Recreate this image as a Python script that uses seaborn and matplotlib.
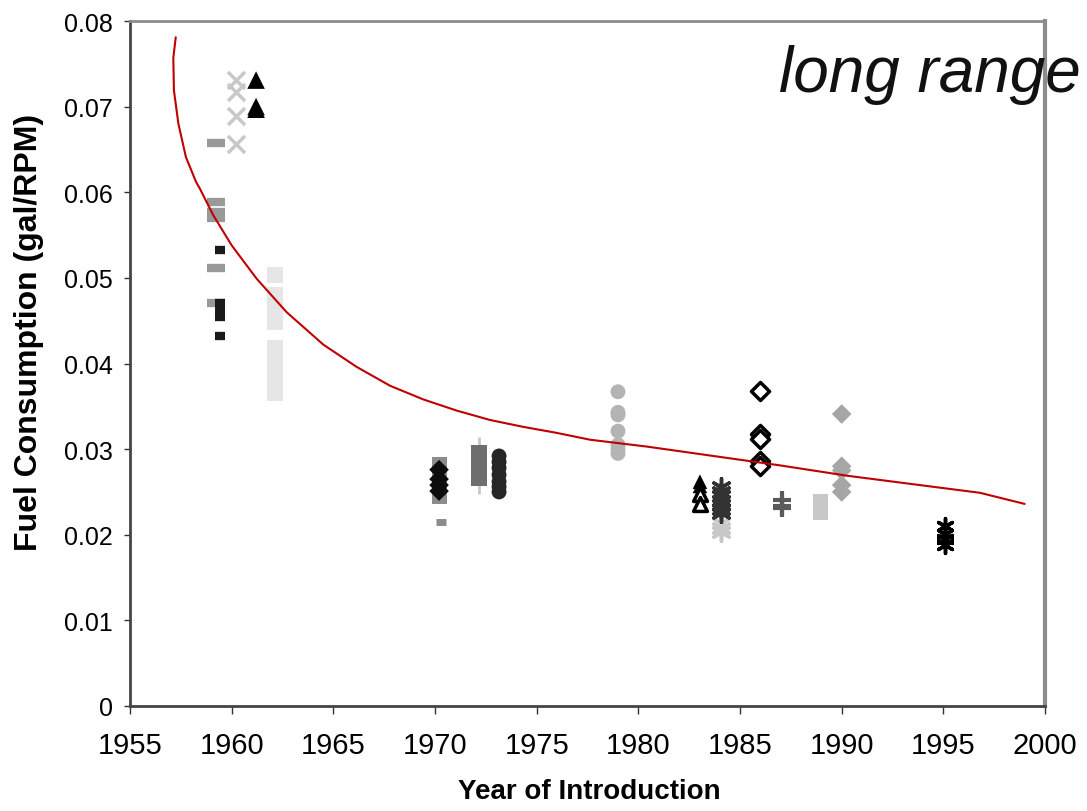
import matplotlib
matplotlib.use("Agg")
import matplotlib.pyplot as plt
import numpy as np
import seaborn as sns

# data (year of introduction, gal/RPM)
yr_59_gray = [1959.25] * 6
fc_59_gray = [0.0657, 0.0589, 0.0577, 0.0570, 0.0512, 0.0471]
yr_59_black = [1959.45] * 6
fc_59_black = [0.0533, 0.0471, 0.0465, 0.0459, 0.0454, 0.0432]
yr_60_x = [1960.2] * 4
fc_60_x = [0.0731, 0.0717, 0.0689, 0.0656]
yr_61_tri = [1961.2] * 3
fc_61_tri = [0.0731, 0.0700, 0.0697]
yr_62_sq = [1962.13] * 10
fc_62_sq = [0.0503, 0.0480, 0.0470, 0.0460, 0.0448, 0.0418, 0.0405, 0.0390, 0.0378, 0.0366]
yr_70_sq = [1970.2] * 4
fc_70_sq = [0.0282, 0.0270, 0.0256, 0.0245]
yr_70_dash = [1970.3]
fc_70_dash = [0.0215]
yr_70_dia = [1970.2] * 4
fc_70_dia = [0.0276, 0.0265, 0.0258, 0.0251]
yr_72_bar = [1972.17] * 2
fc_72_bar = [0.0300, 0.0262]
yr_72_sq = [1972.17] * 5
fc_72_sq = [0.0295, 0.0288, 0.0280, 0.0272, 0.0266]
yr_73_circ = [1973.15] * 7
fc_73_circ = [0.0292, 0.0285, 0.0278, 0.0270, 0.0262, 0.0256, 0.0250]
yr_79_circ = [1979] * 7
fc_79_circ = [0.0367, 0.0343, 0.0340, 0.0321, 0.0305, 0.0300, 0.0295]
yr_83_tri = [1983.03] * 2
fc_83_tri = [0.0262, 0.0257]
yr_83_tri_open = [1983.03] * 2
fc_83_tri_open = [0.0248, 0.0236]
yr_84_ast = [1984.07] * 7
fc_84_ast = [0.0256, 0.0250, 0.0245, 0.0240, 0.0235, 0.0230, 0.0225]
yr_84_ast_light = [1984.07] * 3
fc_84_ast_light = [0.0214, 0.0208, 0.0203]
yr_86_dia = [1986] * 5
fc_86_dia = [0.0368, 0.0318, 0.0312, 0.0286, 0.0280]
yr_87_plus = [1987.05] * 3
fc_87_plus = [0.0241, 0.0234, 0.0231]
yr_89_sq = [1988.95] * 3
fc_89_sq = [0.0239, 0.0232, 0.0226]
yr_90_dia = [1990] * 5
fc_90_dia = [0.0341, 0.0280, 0.0275, 0.0258, 0.0250]
yr_95_ast = [1995.07] * 4
fc_95_ast = [0.0210, 0.0201, 0.0195, 0.0188]

# trend curve, traced point by point
curve_yr = [1957.25, 1957.13, 1957.16, 1957.38, 1957.75, 1958.25, 1958.44, 1959.10,
            1960.0, 1961.23, 1962.70, 1964.51, 1966.15, 1967.79, 1969.43, 1971.07,
            1972.71, 1974.34, 1975.98, 1977.62, 1980.41, 1983.69, 1986.97, 1990.25,
            1993.52, 1996.8, 1999.0]
curve_fc = [0.0781, 0.0757, 0.0719, 0.0680, 0.0641, 0.0612, 0.0604, 0.0573,
            0.0538, 0.0499, 0.0460, 0.0422, 0.0396, 0.0374, 0.0358, 0.0345,
            0.0334, 0.0326, 0.0319, 0.0311, 0.0303, 0.0292, 0.0281, 0.0269,
            0.0259, 0.0249, 0.0236]

sns.set_style("white")
plt.rcParams['font.family'] = ['Liberation Sans', 'DejaVu Sans']

fig = plt.figure(figsize=(10.87, 8.12), dpi=100)
ax = fig.add_axes([130 / 1087, 105 / 812, 915 / 1087, 685 / 812])


def pts(x, y, **kw):
    sns.scatterplot(x=x, y=y, ax=ax, legend=False, zorder=3, **kw)


pts(yr_62_sq, fc_62_sq, marker='s', s=135, color='#e6e6e6', edgecolor='none')
pts(yr_59_gray, fc_59_gray, marker='_', s=170, color='#999999', linewidth=6)
pts(yr_59_black, fc_59_black, marker='_', s=55, color='#1a1a1a', linewidth=6)
pts(yr_60_x, fc_60_x, marker='x', s=150, color='#c8c8c8', linewidth=2.5)
pts(yr_61_tri, fc_61_tri, marker='^', s=160, color='#000000', edgecolor='none')
pts(yr_70_sq, fc_70_sq, marker='s', s=115, color='#8c8c8c', edgecolor='none')
pts(yr_70_dash, fc_70_dash, marker='_', s=60, color='#8c8c8c', linewidth=5)
pts(yr_70_dia, fc_70_dia, marker='D', s=100, color='#0d0d0d', edgecolor='none')
pts(yr_72_bar, fc_72_bar, marker='|', s=300, color='#c8c8c8', linewidth=2)
pts(yr_72_sq, fc_72_sq, marker='s', s=135, color='#6e6e6e', edgecolor='none')
pts(yr_73_circ, fc_73_circ, marker='o', s=115, color='#262626', edgecolor='none')
pts(yr_79_circ, fc_79_circ, marker='o', s=115, color='#b4b4b4', edgecolor='none')
pts(yr_83_tri, fc_83_tri, marker='^', s=110, color='#000000', edgecolor='none')
pts(yr_83_tri_open, fc_83_tri_open, marker='^', s=100, color='white',
    edgecolor='#000000', linewidth=2.5)
pts(yr_84_ast_light, fc_84_ast_light, marker=(6, 2, 0), s=160, color='#c8c8c8', linewidth=2.5)
pts(yr_84_ast, fc_84_ast, marker=(6, 2, 0), s=160, color='#333333', linewidth=2.5)
pts(yr_86_dia, fc_86_dia, marker='D', s=85, color='white', edgecolor='#000000', linewidth=2.5)
pts(yr_87_plus, fc_87_plus, marker='+', s=160, color='#5a5a5a', linewidth=3)
pts(yr_89_sq, fc_89_sq, marker='s', s=120, color='#c8c8c8', edgecolor='none')
pts(yr_90_dia, fc_90_dia, marker='D', s=100, color='#a6a6a6', edgecolor='none')
pts(yr_95_ast, fc_95_ast, marker=(6, 2, 0), s=130, color='#000000', linewidth=2.5)

sns.lineplot(x=curve_yr, y=curve_fc, ax=ax, sort=False, estimator=None,
             color='#c00000', linewidth=1.5, zorder=4)

ax.set_xlim(1955, 2000)
ax.set_ylim(0, 0.08)
ax.set_xticks(np.arange(1955, 2001, 5))
ax.set_yticks(np.arange(0, 0.081, 0.01))
ax.set_yticklabels(['0', '0.01', '0.02', '0.03', '0.04', '0.05', '0.06', '0.07', '0.08'])

ax.tick_params(axis='x', labelsize=21, length=6, width=1, color='#333333', pad=12,
               direction='out', bottom=True, labelcolor='black')
ax.tick_params(axis='y', labelsize=18, length=4.5, width=1, color='#333333', pad=8,
               direction='out', left=True, labelcolor='black')

ax.set_xlabel('Year of Introduction', fontsize=20, fontweight='bold', color='black')
ax.set_ylabel('Fuel Consumption (gal/RPM)', fontsize=23, fontweight='bold', color='black')
ax.xaxis.set_label_coords(0.502, -0.105)
ax.yaxis.set_label_coords(-0.094, 0.547)

for side, col, lw in [('left', '#444444', 2), ('bottom', '#444444', 2),
                      ('top', '#8c8c8c', 2), ('right', '#8c8c8c', 3)]:
    ax.spines[side].set_visible(True)
    ax.spines[side].set_color(col)
    ax.spines[side].set_linewidth(lw)

fig.text(1081 / 1087, 1 - 92 / 812, 'long range', ha='right', va='baseline',
         fontsize=46, fontstyle='italic', color='#111111')

fig.savefig('out.png', dpi=100)
